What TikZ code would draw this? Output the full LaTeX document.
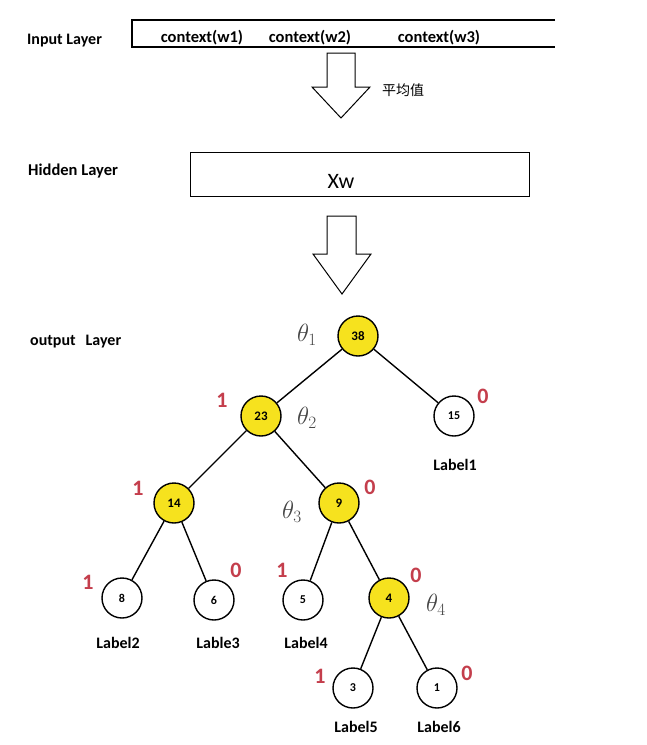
\documentclass[tikz,border=0pt]{standalone}
\usepackage{fontspec}
\setmainfont{Carlito}
\newfontfamily\cjk{Noto Sans CJK SC}
\definecolor{nodeyellow}{RGB}{246,226,30}
\definecolor{bitred}{RGB}{196,62,76}
\definecolor{thetagray}{RGB}{70,70,70}
\begin{document}
\begin{tikzpicture}[x=1pt,y=-1pt,
  lay/.style={font=\fontsize{16}{18}\selectfont\bfseries, anchor=west, inner sep=0},
  ctx/.style={font=\fontsize{16.5}{18}\selectfont\bfseries, inner sep=0},
  tn/.style={circle, draw, line width=1.4pt, minimum size=40pt, inner sep=0, font=\fontsize{13}{14}\selectfont\bfseries},
  yn/.style={tn, fill=nodeyellow},
  wn/.style={tn, fill=white, font=\fontsize{12}{14}\selectfont\bfseries},
  bit/.style={text=bitred, font=\fontsize{22}{24}\selectfont\bfseries, inner sep=0},
  th/.style={text=thetagray, font=\fontsize{24}{26}\selectfont, inner sep=0},
  lab/.style={font=\fontsize{16}{18}\selectfont\bfseries, inner sep=0},
  edge/.style={line width=1.4pt},
  blockarrow/.style={draw, line width=1pt, fill=white, line join=miter}
]
\useasboundingbox (0,0) rectangle (646,745);
\fill[white] (0,0) rectangle (646,745);

% Input layer
\node[lay] (inl) at (27,41) {Input Layer};
\coordinate (ib1) at (555,20);
\coordinate (ib2) at (132,20);
\coordinate (ib3) at (132,47);
\coordinate (ib4) at (555,47);
\draw[line width=1.2pt] (ib1) -- (ib2) -- (ib3) -- (ib4);
\node[ctx] (c1) at (202,38) {context(w1)};
\node[ctx] (c2) at (310,38) {context(w2)};
\node[ctx] (c3) at (439,38) {context(w3)};

% arrow 1
\draw[blockarrow] (327,53) -- (355,53) -- (355,87) -- (370,87) -- (341,118) -- (312,87) -- (327,87) -- cycle;
\node[inner sep=0, font=\fontsize{14}{16}\selectfont\cjk] (avg) at (403,90) {平均值};

% Hidden layer
\node[lay, font=\fontsize{16.5}{18}\selectfont\bfseries] (hl) at (28,171) {Hidden Layer};
\node[draw, line width=1pt, minimum width=339pt, minimum height=44pt, inner sep=0] (hbox) at (359.5,174) {};
\node[inner sep=0, font=\fontsize{22}{24}\selectfont] (xw) at (341,181) {Xw};

% arrow 2
\draw[blockarrow] (327,216) -- (356,216) -- (356,254) -- (371,254) -- (342,294) -- (313,254) -- (327,254) -- cycle;

% Output layer
\node[lay] (ol) at (30,342) {output\hspace{10pt}Layer};

% tree nodes
\node[yn] (n38) at (358,336) {38};
\node[yn] (n23) at (261,416) {23};
\node[wn] (n15) at (454,416) {15};
\node[yn] (n14) at (174,503) {14};
\node[yn] (n9)  at (339,503) {9};
\node[wn] (n8)  at (122,598) {8};
\node[wn] (n6)  at (214,600) {6};
\node[wn] (n5)  at (303,600) {5};
\node[yn] (n4)  at (389,598) {4};
\node[wn] (n3)  at (353,688) {3};
\node[wn] (n1)  at (437,688) {1};

\draw[edge] (n38) -- (n23);
\draw[edge] (n38) -- (n15);
\draw[edge] (n23) -- (n14);
\draw[edge] (n23) -- (n9);
\draw[edge] (n14) -- (n8);
\draw[edge] (n14) -- (n6);
\draw[edge] (n9) -- (n5);
\draw[edge] (n9) -- (n4);
\draw[edge] (n4) -- (n3);
\draw[edge] (n4) -- (n1);

% thetas
\node[th] (t1) at (307,335) {$\theta_1$};
\node[th] (t2) at (307,418) {$\theta_2$};
\node[th] (t3) at (292,512) {$\theta_3$};
\node[th] (t4) at (436,605) {$\theta_4$};

% bits
\node[bit] (b23) at (222,400) {1};
\node[bit] (b15) at (483,396) {0};
\node[bit] (b14) at (138,488) {1};
\node[bit] (b9)  at (370,487) {0};
\node[bit] (b8)  at (88,582) {1};
\node[bit] (b6)  at (236,570) {0};
\node[bit] (b5)  at (282,570) {1};
\node[bit] (b4)  at (416,575) {0};
\node[bit] (b3)  at (320,676) {1};
\node[bit] (b1)  at (467,673) {0};

% leaf labels
\node[lab] (l1) at (455,465) {Label1};
\node[lab] (l2) at (118,643) {Label2};
\node[lab] (l3) at (218,643) {Lable3};
\node[lab] (l4) at (306,643) {Label4};
\node[lab] (l5) at (356,727) {Label5};
\node[lab] (l6) at (439,727) {Label6};
\end{tikzpicture}
\end{document}
